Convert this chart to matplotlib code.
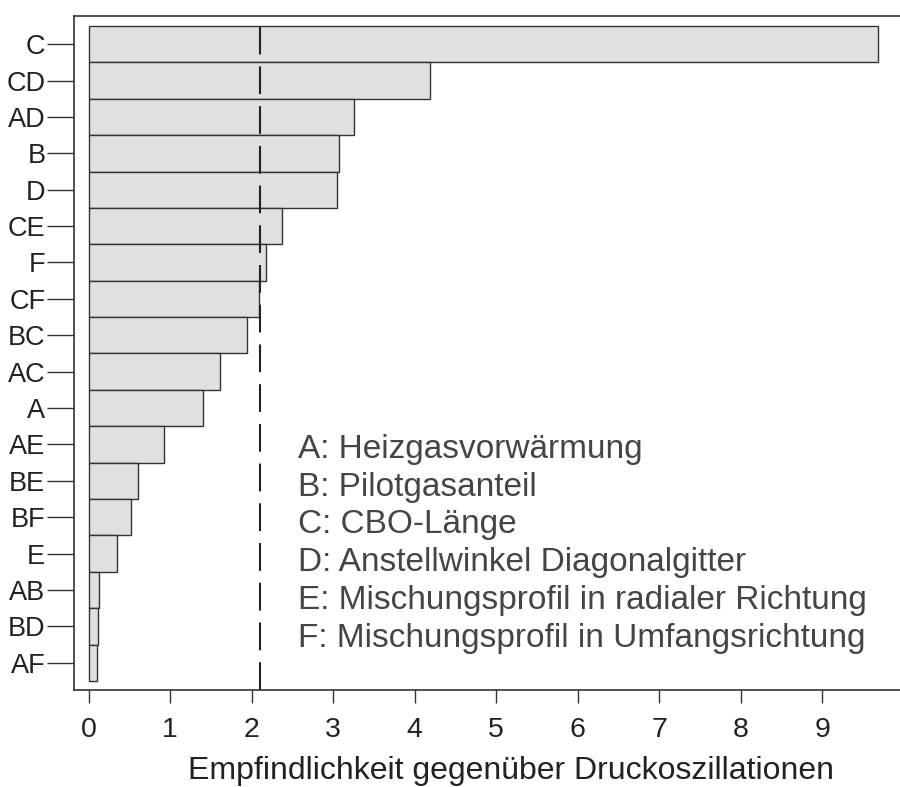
import matplotlib
matplotlib.use("Agg")
import matplotlib.pyplot as plt

plt.rcParams['font.family'] = ['Liberation Sans', 'DejaVu Sans']
plt.rcParams['lines.scale_dashes'] = False

# effects, ordered from top to bottom
effects = ['C', 'CD', 'AD', 'B', 'D', 'CE', 'F', 'CF', 'BC', 'AC',
           'A', 'AE', 'BE', 'BF', 'E', 'AB', 'BD', 'AF']
sensitivity = [9.68, 4.19, 3.25, 3.07, 3.05, 2.37, 2.17, 2.09, 1.94, 1.61,
               1.40, 0.92, 0.61, 0.52, 0.35, 0.12, 0.11, 0.10]
threshold = 2.10

factor_names = ['A: Heizgasvorwärmung',
                'B: Pilotgasanteil',
                'C: CBO-Länge',
                'D: Anstellwinkel Diagonalgitter',
                'E: Mischungsprofil in radialer Richtung',
                'F: Mischungsprofil in Umfangsrichtung']

W, H = 900, 787
fig = plt.figure(figsize=(W / 100, H / 100), dpi=100)
ax = fig.add_axes([74.3 / W, 1 - 690 / H, 1 - 74.3 / W, (690 - 16) / H])

n = len(effects)
ypos = list(range(n - 1, -1, -1))
ax.barh(ypos, sensitivity, height=1.0, color='#dfe0e2',
        edgecolor='#333333', linewidth=1.0)

ax.axvline(threshold, color='#222222', linewidth=1.5, dashes=(20, 8.6))

ax.set_xlim(-0.177, 9.955)
ax.set_ylim(-0.75, n - 0.5 + 0.275)

ax.set_xticks(range(10))
ax.set_yticks(ypos)
ax.set_yticklabels(effects)

ax.tick_params(axis='y', length=19.4, width=1.0, color='#333333',
               pad=1.5, labelsize=19.5, labelcolor='#222222')
ax.tick_params(axis='x', length=9.4, width=1.0, color='#333333',
               pad=10, labelsize=20.5, labelcolor='#222222')

for side in ['left', 'bottom', 'top']:
    ax.spines[side].set_color('#333333')
    ax.spines[side].set_linewidth(1.2)
ax.spines['right'].set_visible(False)

fig.text(511 / W, 1 - 779 / H, 'Empfindlichkeit gegenüber Druckoszillationen',
         ha='center', va='baseline', fontsize=23, color='#222222')

for i, name in enumerate(factor_names):
    fig.text(298 / W, 1 - (458 + i * 37.7) / H, name,
             ha='left', va='baseline', fontsize=24, color='#454545')

fig.savefig('out.png', dpi=100)
